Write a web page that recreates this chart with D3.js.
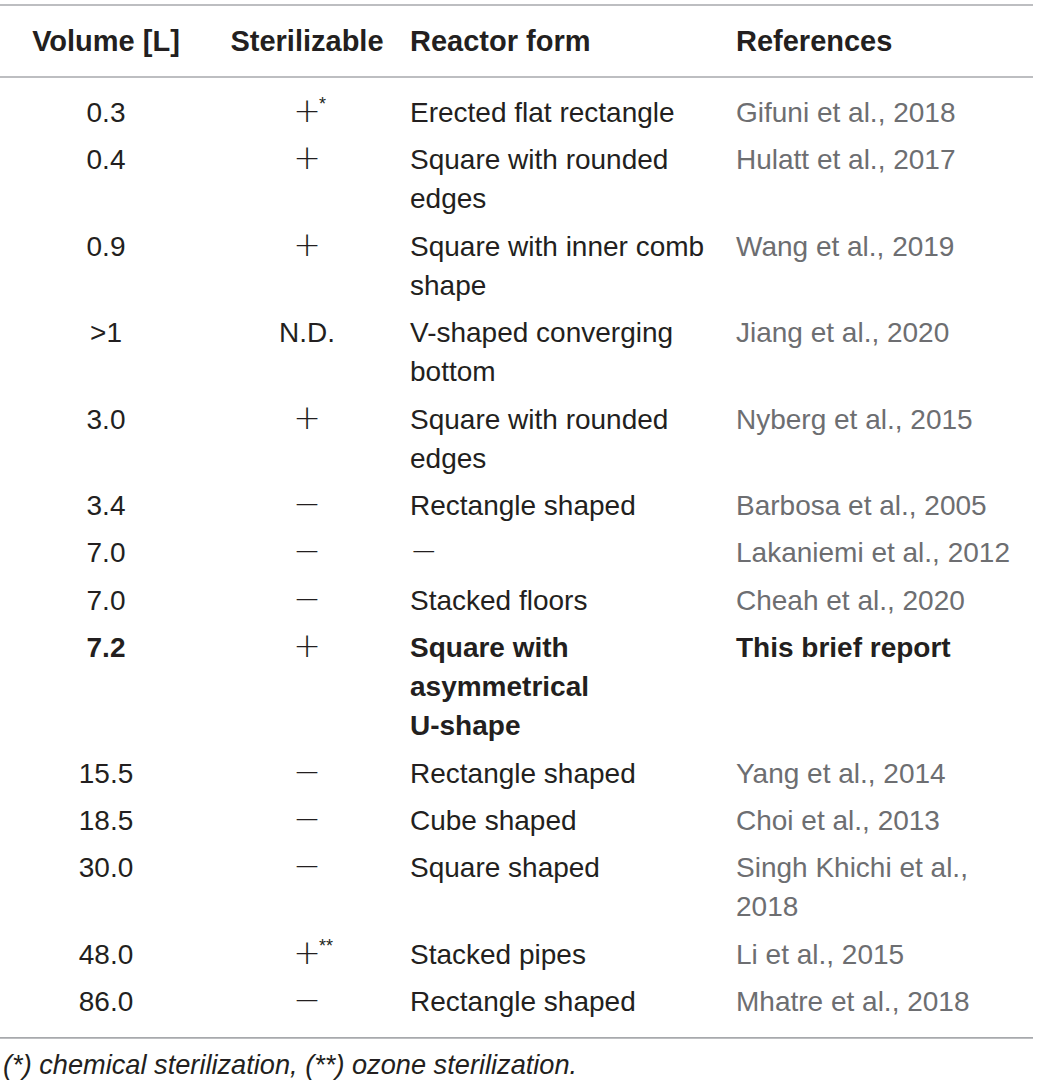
<!DOCTYPE html>
<html>
<head>
<meta charset="utf-8">
<script src="https://cdn.jsdelivr.net/npm/d3@7"></script>
<style>
  body { margin: 0; background: #fff; }
  svg text { font-family: "Liberation Sans", Arial, sans-serif; }
</style>
</head>
<body>
<svg id="table" width="1039" height="1088"></svg>
<script>
// Table contents, one array per column
var headers = ['Volume [L]', 'Sterilizable', 'Reactor form', 'References'];

var volumes = ['0.3', '0.4', '0.9', '>1', '3.0', '3.4', '7.0', '7.0', '7.2',
    '15.5', '18.5', '30.0', '48.0', '86.0'];

// sterilizable mark and its footnote superscript
var sterilizable = ['+', '+', '+', 'N.D.', '+', '−', '−', '−', '+', '−', '−', '−', '+', '−'];
var sterilNotes = ['*', '', '', '', '', '', '', '', '', '', '', '', '**', ''];

// "\n" marks where the printed cell wraps
var reactorForms = [
    'Erected flat rectangle',
    'Square with rounded\nedges',
    'Square with inner comb\nshape',
    'V-shaped converging\nbottom',
    'Square with rounded\nedges',
    'Rectangle shaped',
    '−',
    'Stacked floors',
    'Square with\nasymmetrical\nU-shape',
    'Rectangle shaped',
    'Cube shaped',
    'Square shaped',
    'Stacked pipes',
    'Rectangle shaped'
];

var references = [
    'Gifuni et al., 2018',
    'Hulatt et al., 2017',
    'Wang et al., 2019',
    'Jiang et al., 2020',
    'Nyberg et al., 2015',
    'Barbosa et al., 2005',
    'Lakaniemi et al., 2012',
    'Cheah et al., 2020',
    'This brief report',
    'Yang et al., 2014',
    'Choi et al., 2013',
    'Singh Khichi et al.,\n2018',
    'Li et al., 2015',
    'Mhatre et al., 2018'
];

var highlightRow = 8;   // the row of this report, set in bold
var footnote = '(*) chemical sterilization, (**) ozone sterilization.';

var svg = d3.select('#table');

var fontSize = 28;
var headSize = 29;
var lineStep = 39.3;   // distance between wrapped lines
var rowGap = 7.9;      // extra space between rows
var bodyTop = 122;     // baseline of first body line

var ink = '#231f20';
var refInk = '#6d6e71';
var rule = '#a7a9ac';

// column anchors
var cols = [
    {x: 106, anchor: 'middle'},
    {x: 307, anchor: 'middle'},
    {x: 410, anchor: 'start'},
    {x: 736, anchor: 'start'}
];
var headX = [106, 307, 410, 736];
var headAnchor = ['middle', 'middle', 'start', 'start'];

// thin math signs are set in a light face
var isSign = function(s) { return s === '+' || s === '−'; };

// build row records with line counts so rows can stack
var rows = volumes.map(function(v, i) {
    var cells = [
        [v],
        [sterilizable[i]],
        reactorForms[i].split('\n'),
        references[i].split('\n')
    ];
    return {
        index: i,
        cells: cells,
        note: sterilNotes[i],
        lines: d3.max(cells, function(c) { return c.length; })
    };
});

// line offset of each row start
var offset = 0;
rows.forEach(function(r) {
    r.lineStart = offset;
    offset += r.lines;
});

// baseline of a row's first line from its line offset and row index
var yLine = function(lineIdx, rowIdx) {
    return bodyTop + lineIdx * lineStep + rowIdx * rowGap;
};

// rules
var ruleY = [5, 77, yLine(offset, rows.length) - 20];
svg.selectAll('line.rule')
    .data(ruleY)
    .enter()
    .append('line')
    .attr('class', 'rule')
    .attr('x1', 0)
    .attr('x2', 1033)
    .attr('y1', function(d) { return d; })
    .attr('y2', function(d) { return d; })
    .attr('stroke', rule)
    .attr('stroke-width', 1.6);

// header
svg.selectAll('text.header')
    .data(headers)
    .enter()
    .append('text')
    .attr('class', 'header')
    .attr('x', function(d, i) { return headX[i]; })
    .attr('y', 51)
    .attr('text-anchor', function(d, i) { return headAnchor[i]; })
    .attr('font-size', headSize)
    .attr('font-weight', 'bold')
    .attr('fill', ink)
    .text(function(d) { return d; });

// body
var rowG = svg.selectAll('g.row')
    .data(rows)
    .enter()
    .append('g')
    .attr('class', 'row')
    .attr('transform', function(d) {
        return 'translate(0,' + yLine(d.lineStart, d.index) + ')';
    });

rowG.each(function(r) {
    var g = d3.select(this);
    var bold = r.index === highlightRow;
    r.cells.forEach(function(lines, c) {
        var t = g.append('text')
            .attr('x', cols[c].x)
            .attr('text-anchor', cols[c].anchor)
            .attr('font-size', fontSize)
            .attr('font-weight', bold && c !== 1 ? 'bold' : 'normal')
            .attr('fill', c === 3 && !bold ? refInk : ink);
        t.selectAll('tspan')
            .data(lines)
            .enter()
            .append('tspan')
            .attr('x', cols[c].x)
            .attr('y', function(d, k) { return k * lineStep; })
            .attr('font-family', function(d) { return isSign(d) ? 'DejaVu Sans' : null; })
            .attr('font-weight', function(d) { return isSign(d) ? 200 : null; })
            .attr('font-size', function(d) { return isSign(d) ? 33 : null; })
            .text(function(d) { return d; });
    });
    // footnote marker hangs to the right of the centred sign
    if (r.note) {
        g.append('text')
            .attr('x', cols[1].x + 12)
            .attr('y', -12)
            .attr('font-size', 18)
            .attr('fill', ink)
            .text(r.note);
    }
});

// footnote
svg.append('text')
    .attr('x', 3)
    .attr('y', ruleY[2] + 36)
    .attr('font-size', 27.2)
    .attr('font-style', 'italic')
    .attr('fill', ink)
    .text(footnote);
</script>
</body>
</html>
